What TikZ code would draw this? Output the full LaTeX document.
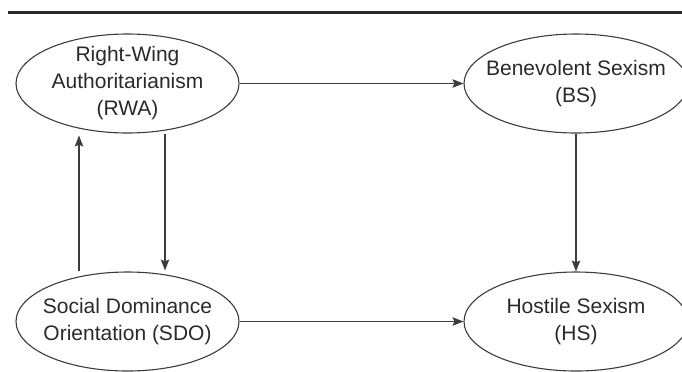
\documentclass[tikz,border=0pt]{standalone}
\usepackage{fontspec}
\setmainfont{Liberation Sans}
\usetikzlibrary{shapes.geometric,arrows.meta}
\definecolor{ink}{HTML}{2A2A2A}
\definecolor{linec}{HTML}{3C3C3C}
\begin{document}
\begin{tikzpicture}[x=1bp,y=-1bp,
  construct/.style={ellipse,draw=linec,line width=1.1bp,minimum width=223bp,minimum height=99bp,
    inner sep=-30bp,align=center,text=ink,font=\fontsize{21bp}{27bp}\selectfont},
  path/.style={draw=linec,line width=1.1bp,-{Stealth[length=11bp,width=8.5bp,inset=2bp]}}]
\useasboundingbox (0,0) rectangle (682,371);
\draw[ink,line width=2.4bp] (8,12.5) -- (682,12.5);
\node[construct] (rwa) at (127.5,83.5) {Right-Wing\\Authoritarianism\\(RWA)};
\node[construct] (sdo) at (127.5,321.5) {Social Dominance\\Orientation (SDO)};
\node[construct,minimum width=224bp] (bs) at (576,83.5) {Benevolent Sexism\\(BS)};
\node[construct,minimum width=224bp] (hs) at (576,321.5) {Hostile Sexism\\(HS)};
\draw[path] (rwa.east) -- (bs.west);
\draw[path] (sdo.east) -- (hs.west);
\draw[path] ([xshift=-48.5bp]sdo.north) -- ([xshift=-48.5bp,yshift=-2bp]rwa.south);
\draw[path] ([xshift=37.5bp]rwa.south) -- ([xshift=37.5bp,yshift=1bp]sdo.north);
\draw[path] (bs.south) -- (hs.north);
\end{tikzpicture}
\end{document}
